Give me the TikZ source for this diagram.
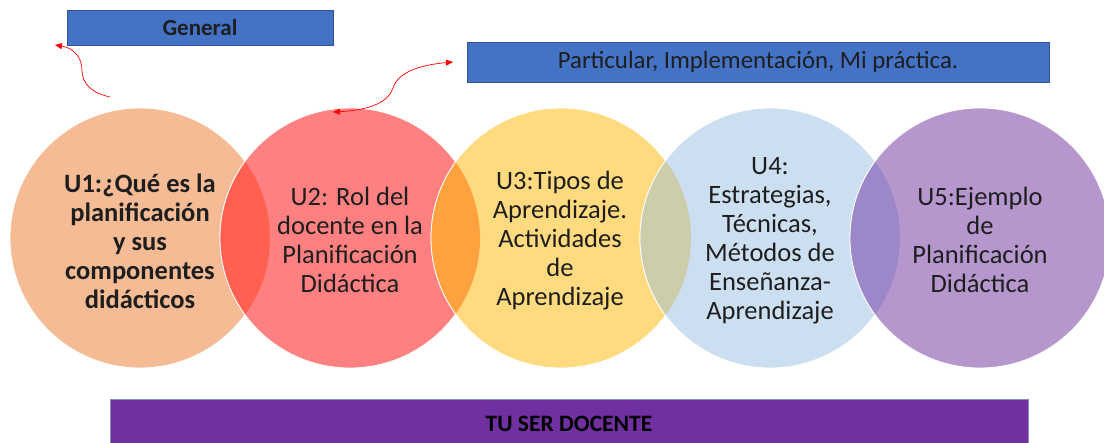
\documentclass[tikz,border=0pt]{standalone}
\usepackage{fontspec}
\setmainfont{Carlito}
\usetikzlibrary{arrows.meta}
\definecolor{cA}{HTML}{F4BB94}
\definecolor{cB}{HTML}{FF8080}
\definecolor{cC}{HTML}{FFDA7F}
\definecolor{cD}{HTML}{CCDFF1}
\definecolor{cE}{HTML}{B597CE}
\definecolor{oAB}{HTML}{FF6050}
\definecolor{oBC}{HTML}{FFA23F}
\definecolor{oCD}{HTML}{CBCDAB}
\definecolor{oDE}{HTML}{9C87C8}
\definecolor{boxblue}{HTML}{4472C4}
\definecolor{boxline}{HTML}{2F5597}
\definecolor{barpurple}{HTML}{7030A0}
\definecolor{barline}{HTML}{7F8FB8}
\definecolor{txt}{HTML}{1E1E1E}
\tikzset{
  unit/.style={circle, minimum size=260pt, inner sep=0pt, draw=white, line width=0.8pt},
  unittext/.style={align=center, text=txt, font=\fontsize{26.5}{29}\selectfont},
  topbox/.style={draw=boxline, fill=boxblue, line width=0.7pt, inner sep=0pt},
  redarrow/.style={draw=red, line width=0.7pt},
  tipr/.tip={Triangle[length=7pt,width=6pt]}
}
\begin{document}
\begin{tikzpicture}[x=1pt,y=-1pt]
\useasboundingbox (0,0) rectangle (1104,443);
% circles
\node[unit, fill=cA] (c1) at (140,238) {};
\node[unit, fill=cB] (c2) at (350,238) {};
\node[unit, fill=cC] (c3) at (561,238) {};
\node[unit, fill=cD] (c4) at (770,238) {};
\node[unit, fill=cE] (c5) at (980,238) {};
% overlaps
\begin{scope}
  \clip (c1.center) circle[radius=130pt];
  \fill[oAB] (c2.center) circle[radius=130pt];
  \draw[white, line width=0.8pt] (c2.center) circle[radius=130pt];
\end{scope}
\begin{scope}
  \clip (c2.center) circle[radius=130pt];
  \fill[oBC] (c3.center) circle[radius=130pt];
  \draw[white, line width=0.8pt] (c3.center) circle[radius=130pt];
\end{scope}
\begin{scope}
  \clip (c3.center) circle[radius=130pt];
  \fill[oCD] (c4.center) circle[radius=130pt];
  \draw[white, line width=0.8pt] (c4.center) circle[radius=130pt];
\end{scope}
\begin{scope}
  \clip (c4.center) circle[radius=130pt];
  \fill[oDE] (c5.center) circle[radius=130pt];
  \draw[white, line width=0.8pt] (c5.center) circle[radius=130pt];
\end{scope}
% texts
\node[unittext, font=\fontsize{26.5}{29}\bfseries\selectfont] (t1) at (140,241)
  {U1:¿Qué es la\\planificación\\y sus\\componentes\\didácticos};
\node[unittext] (t2) at (350,240)
  {U2: Rol del\\docente en la\\Planificación\\Didáctica};
\node[unittext] (t3) at (560,241)
  {U3:Tipos de\\Aprendizaje.\\Actividades\\de\\Aprendizaje};
\node[unittext] (t4) at (770,241)
  {U4:\\Estrategias,\\Técnicas,\\Métodos de\\Enseñanza-\\Aprendizaje};
\node[unittext] (t5) at (980,240)
  {U5:Ejemplo\\de\\Planificación\\Didáctica};
% top boxes
\node[topbox, minimum width=266pt, minimum height=35pt,
      font=\fontsize{23}{26}\bfseries\selectfont, text=txt] (gen) at (200,27.5) {General};
\node[topbox, minimum width=582pt, minimum height=40pt,
      font=\fontsize{24.8}{28}\selectfont, text=txt] (par) at (758,62) {Particular, Implementación, Mi práctica.};
% bottom bar
\fill[barpurple] (110,399) rectangle (1028,450);
\draw[barline, line width=0.8pt] (110,450) -- (110,399) -- (1028,399) -- (1028,450);
\node[font=\fontsize{23.5}{26}\bfseries\selectfont, text=black] (bar) at (569,424) {TU SER DOCENTE};
% arrows
\coordinate (a1s) at (110,97);
\coordinate (a1e) at (55,45);
\coordinate (a2s) at (333,112);
\coordinate (a2e) at (453,62);
\draw[redarrow, -{tipr}] (a1s) .. controls (92,93) and (82,84) .. (82,70)
   .. controls (82,58) and (74,48) .. (a1e);
\draw[redarrow, {tipr}-{tipr}] (a2s) .. controls (372,110) and (389,101) .. (393,88)
   .. controls (398,72) and (420,65) .. (a2e);
\end{tikzpicture}
\end{document}
